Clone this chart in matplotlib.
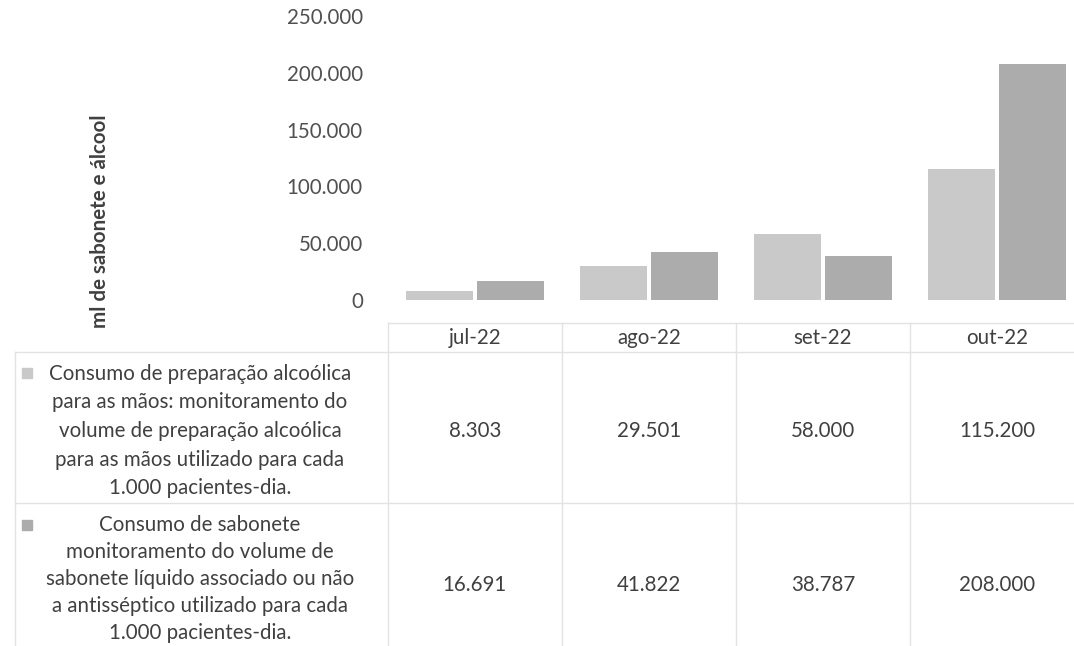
import matplotlib
matplotlib.use("Agg")
import matplotlib.pyplot as plt
from matplotlib.lines import Line2D
from matplotlib.patches import Rectangle

W, H = 1074, 646
DPI = 100

categories = ["jul-22", "ago-22", "set-22", "out-22"]
alcool = [8303, 29501, 58000, 115200]
sabonete = [16691, 41822, 38787, 208000]
alcool_labels = ["8.303", "29.501", "58.000", "115.200"]
sabonete_labels = ["16.691", "41.822", "38.787", "208.000"]
y_ticks = [0, 50000, 100000, 150000, 200000, 250000]
y_tick_labels = ["0", "50.000", "100.000", "150.000", "200.000", "250.000"]
series_names = [
    "Consumo de preparação alcoólica\npara as mãos: monitoramento do\nvolume de preparação alcoólica\npara as mãos utilizado para cada\n1.000 pacientes-dia.",
    "Consumo de sabonete\nmonitoramento do volume de\nsabonete líquido associado ou não\na antisséptico utilizado para cada\n1.000 pacientes-dia.",
]
y_label = "ml de sabonete e álcool"

c_alc = "#c9c9c9"
c_sab = "#acacac"
txt = "#404040"
grid_c = "#e2e2e2"
FS = 14.8

plt.rcParams["font.family"] = ["Lato", "DejaVu Sans"]

fig = plt.figure(figsize=(W / DPI, H / DPI), dpi=DPI)
fig.patch.set_facecolor("white")


def fx(x):
    return x / W


def fy(y):
    return 1 - y / H


# plot axes in pixel coordinates
ax_l, ax_r = 388, 1084
ax_t, ax_b = 16, 300
ax = fig.add_axes([fx(ax_l), fy(ax_b), (ax_r - ax_l) / W, (ax_b - ax_t) / H])
ax.set_xlim(-0.5, len(categories) - 0.5)
ax.set_ylim(0, 250000)

bw = 0.384
gap = 0.023
xs = list(range(len(categories)))
ax.bar([x - bw / 2 - gap / 2 for x in xs], alcool, width=bw, color=c_alc, edgecolor="none")
ax.bar([x + bw / 2 + gap / 2 for x in xs], sabonete, width=bw, color=c_sab, edgecolor="none")

ax.set_yticks(y_ticks)
ax.set_yticklabels(y_tick_labels, fontsize=FS, color="#505050")
ax.tick_params(axis="y", length=0, pad=18)
ax.set_xticks([])
for s in ax.spines.values():
    s.set_visible(False)

fig.text(fx(100), fy(221), y_label, rotation=90, ha="center", va="center",
         fontsize=FS, fontweight="bold", color=txt)

# table
col_w = (ax_r - ax_l) / len(categories)
col_edges = [ax_l + i * col_w for i in range(len(categories) + 1)]
row_lines = [323, 352, 503]
for y in row_lines:
    x0 = ax_l if y == 323 else 15
    fig.add_artist(Line2D([fx(x0), fx(W)], [fy(y), fy(y)], color=grid_c, lw=1))
for x in col_edges:
    fig.add_artist(Line2D([fx(x), fx(x)], [fy(323), fy(H)], color=grid_c, lw=1))
fig.add_artist(Line2D([fx(15), fx(15)], [fy(352), fy(H)], color=grid_c, lw=1))

for i, cat in enumerate(categories):
    cx = ax_l + (i + 0.5) * col_w
    fig.text(fx(cx), fy(338), cat, ha="center", va="center", fontsize=FS, color=txt)
    fig.text(fx(cx), fy(431), alcool_labels[i], ha="center", va="center", fontsize=FS, color=txt)
    fig.text(fx(cx), fy(585), sabonete_labels[i], ha="center", va="center", fontsize=FS, color=txt)

row_specs = [(431, 1.54, 29.0), (579, 1.44, 27.0)]
for name, (yc, ls, step), col in zip(series_names, row_specs, [c_alc, c_sab]):
    fig.text(fx(200), fy(yc), name, ha="center", va="center", fontsize=FS,
             color=txt, linespacing=ls, multialignment="center")
    top_line = yc - 2 * step
    fig.add_artist(Rectangle((fx(22), fy(top_line + 5)), 10 / W, 10 / H, color=col,
                             transform=fig.transFigure))

fig.savefig("out.png", dpi=DPI)
